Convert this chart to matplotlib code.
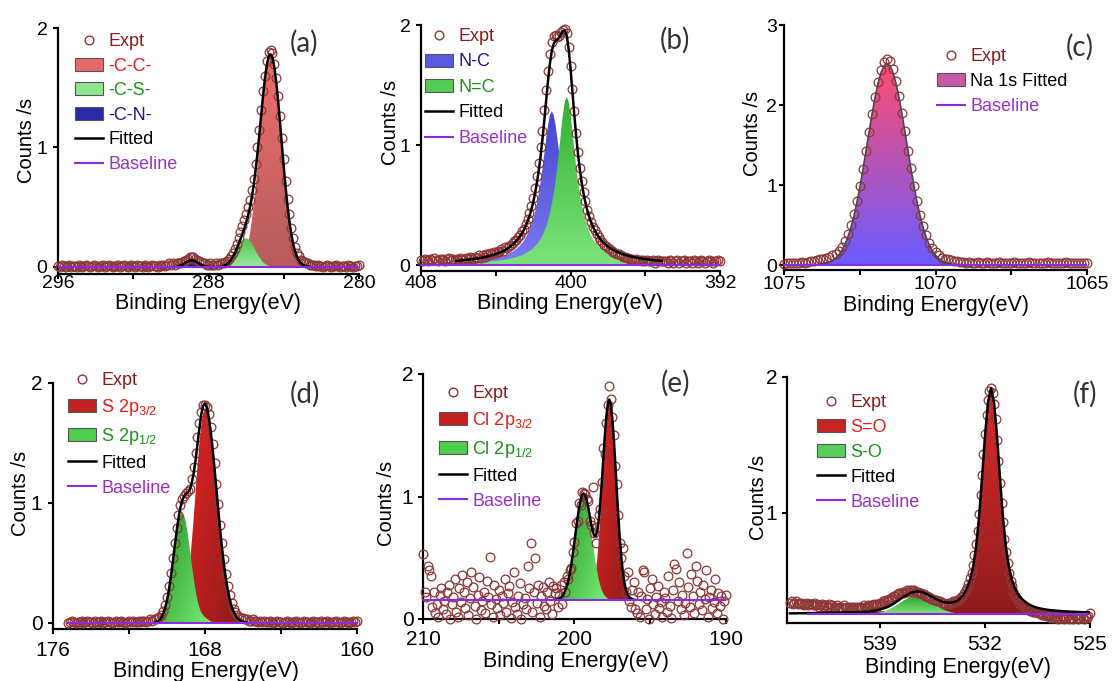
import numpy as np
import matplotlib.pyplot as plt
from matplotlib.colors import LinearSegmentedColormap
from matplotlib.lines import Line2D
from matplotlib.patches import Patch

plt.rcParams['font.family'] = ['Liberation Sans', 'DejaVu Sans']
plt.rcParams['mathtext.default'] = 'regular'

W, H = 1114, 681

EXPT_EDGE = '#8e3636'
EXPT_TEXT = '#8b1a1a'
BASE_COLOR = '#8a2be2'
BASE_TEXT = '#9b30c8'
RED_TEXT = '#e41e1e'
GREEN_TEXT = '#1a941a'
BLUE_TEXT = '#1c1c8c'

# ---------------- (a) C 1s ----------------
a_expt_start = 296.0
a_expt = [0.01, 0.00, 0.02, 0.01, 0.00, 0.01, 0.02, 0.00, 0.01, 0.01,
          0.00, 0.02, 0.01, 0.00, 0.01, 0.02, 0.01, 0.00, 0.01, 0.02,
          0.01, 0.00, 0.01, 0.01, 0.02, 0.00, 0.01, 0.02, 0.01, 0.00,
          0.01, 0.01, 0.02, 0.00, 0.01, 0.02, 0.01, 0.00, 0.01, 0.02,
          0.01, 0.00, 0.02, 0.01, 0.01, 0.00, 0.02, 0.01, 0.00, 0.01,
          0.02, 0.01, 0.01, 0.00, 0.02, 0.01, 0.02, 0.01, 0.02, 0.03,
          0.02, 0.03, 0.02, 0.03,
          0.03, 0.03, 0.04, 0.05, 0.06, 0.07, 0.08, 0.08, 0.08, 0.07,
          0.06, 0.05, 0.04, 0.03, 0.03,
          0.02, 0.02, 0.03, 0.02, 0.02, 0.03, 0.02, 0.03, 0.03,
          0.03, 0.04, 0.05, 0.07, 0.09, 0.12, 0.15, 0.19, 0.24, 0.29,
          0.34, 0.39, 0.44, 0.50, 0.56, 0.64, 0.74, 0.86, 1.00, 1.15,
          1.31, 1.47, 1.60, 1.72, 1.80, 1.82, 1.79, 1.70, 1.58, 1.43,
          1.26, 1.08, 0.90, 0.72, 0.57, 0.44, 0.33, 0.24, 0.17, 0.12,
          0.09, 0.06, 0.05, 0.04, 0.03, 0.03, 0.02,
          0.02, 0.02, 0.01, 0.02, 0.01, 0.01, 0.00, 0.01, 0.02, 0.01,
          0.00, 0.01, 0.01, 0.02, 0.01, 0.00, 0.01, 0.01, 0.00, 0.02,
          0.01, 0.01, 0.00, 0.01, 0.01, 0.02]
a_fit_start, a_fit_n = 289.6, 71
a_cc_start = 286.8
a_cc = [0.002, 0.004, 0.007, 0.012, 0.021, 0.035, 0.056, 0.087, 0.132, 0.194,
        0.276, 0.382, 0.512, 0.665, 0.837, 1.023, 1.211, 1.392, 1.550, 1.673,
        1.753, 1.780, 1.753, 1.673, 1.550, 1.392, 1.211, 1.023, 0.837, 0.665,
        0.512, 0.382, 0.276, 0.194, 0.132, 0.087, 0.056, 0.035, 0.021, 0.012,
        0.007, 0.004, 0.002]
a_cs_start = 287.2
a_cs = [0.011, 0.017, 0.027, 0.041, 0.060, 0.083, 0.110, 0.139, 0.170, 0.198,
        0.220, 0.235, 0.240, 0.235, 0.220, 0.198, 0.170, 0.139, 0.110, 0.083,
        0.060, 0.041, 0.027, 0.017, 0.011]
a_cn_start = 289.6
a_cn = [0.007, 0.013, 0.020, 0.029, 0.038, 0.047, 0.053, 0.055, 0.053, 0.047,
        0.038, 0.029, 0.020, 0.013, 0.007]
a_base = 0.0
a_base_x = [296.0, 280.0]

# ---------------- (b) N 1s ----------------
b_expt_start = 408.0
b_expt = [0.04, 0.03, 0.05, 0.04, 0.03, 0.05, 0.04, 0.06, 0.04, 0.03,
          0.05, 0.04, 0.05, 0.03, 0.05, 0.06, 0.04, 0.05, 0.04,
          0.05, 0.04, 0.06, 0.05, 0.04, 0.06, 0.05, 0.07, 0.06, 0.05,
          0.07, 0.06, 0.08, 0.06, 0.08, 0.07, 0.09, 0.08, 0.10, 0.09,
          0.11, 0.10, 0.12, 0.11, 0.13, 0.12, 0.15, 0.14, 0.16, 0.17,
          0.18, 0.20, 0.21, 0.23, 0.25, 0.28, 0.30, 0.34, 0.38, 0.43,
          0.49, 0.56, 0.64, 0.74, 0.85, 0.98, 1.12, 1.29, 1.46, 1.62,
          1.76, 1.86, 1.91, 1.92, 1.90, 1.91, 1.94, 1.96, 1.97, 1.93,
          1.82, 1.66, 1.47, 1.28, 1.10, 0.94, 0.81, 0.70, 0.61, 0.53,
          0.46, 0.41, 0.36, 0.32, 0.29, 0.26, 0.23, 0.21, 0.19, 0.17,
          0.16, 0.14, 0.13, 0.12, 0.11, 0.10, 0.09, 0.09, 0.08, 0.07,
          0.07, 0.06, 0.06, 0.05, 0.05, 0.04, 0.05, 0.04, 0.04, 0.03,
          0.04, 0.03, 0.04, 0.03, 0.03, 0.04, 0.02, 0.03, 0.04, 0.03,
          0.03,
          0.03, 0.03, 0.02, 0.04, 0.03, 0.02, 0.03, 0.04, 0.02, 0.03, 0.03,
          0.04, 0.02, 0.03, 0.03, 0.02, 0.04, 0.03, 0.02, 0.03, 0.04,
          0.03, 0.02, 0.03, 0.04, 0.03, 0.02, 0.03, 0.03, 0.04, 0.03]
b_fit_start, b_fit_n = 406.1, 111
b_nc_start = 406.1
b_nc = [0.020, 0.021, 0.022, 0.023, 0.024, 0.025, 0.026, 0.027, 0.029, 0.030,
        0.031, 0.033, 0.035, 0.036, 0.038, 0.040, 0.043, 0.045, 0.048, 0.051,
        0.054, 0.057, 0.061, 0.065, 0.070, 0.075, 0.081, 0.087, 0.095, 0.103,
        0.112, 0.122, 0.134, 0.148, 0.163, 0.181, 0.202, 0.227, 0.256, 0.290,
        0.331, 0.380, 0.439, 0.509, 0.593, 0.691, 0.804, 0.928, 1.055, 1.169,
        1.250, 1.280,
        1.250, 1.169, 1.055, 0.928, 0.804, 0.691, 0.593, 0.509, 0.439, 0.380,
        0.331, 0.290, 0.256, 0.227, 0.202, 0.181, 0.163, 0.148, 0.134, 0.122,
        0.112, 0.103, 0.095, 0.087, 0.081, 0.075, 0.070, 0.065, 0.061, 0.057,
        0.054, 0.051, 0.048, 0.045, 0.043, 0.040, 0.038, 0.036, 0.035, 0.033,
        0.031, 0.030, 0.029, 0.027, 0.026, 0.025, 0.024, 0.023, 0.022, 0.021,
        0.020, 0.020, 0.019, 0.018, 0.017, 0.017, 0.016, 0.016, 0.015]
b_ndc_start = 406.1
b_ndc = [0.014, 0.015, 0.015, 0.016, 0.017, 0.017, 0.018, 0.019, 0.020, 0.020,
         0.021, 0.022, 0.022, 0.023, 0.024, 0.026, 0.027, 0.028, 0.029, 0.031,
         0.032, 0.034, 0.036, 0.038, 0.040, 0.042, 0.045, 0.048, 0.051, 0.054,
         0.057, 0.061, 0.066, 0.071, 0.076, 0.082, 0.089, 0.097, 0.106, 0.116,
         0.127, 0.140, 0.155, 0.173, 0.193, 0.217, 0.246, 0.280, 0.321, 0.371,
         0.431, 0.504, 0.593, 0.700, 0.826, 0.969, 1.120, 1.260, 1.362, 1.400,
         1.362, 1.260, 1.120, 0.969, 0.826, 0.700, 0.593, 0.504, 0.431, 0.371,
         0.321, 0.280, 0.246, 0.217, 0.193, 0.173, 0.155, 0.140, 0.127, 0.116,
         0.106, 0.097, 0.089, 0.082, 0.076, 0.071, 0.066, 0.061, 0.057, 0.054,
         0.051, 0.048, 0.045, 0.042, 0.040, 0.038, 0.036, 0.034, 0.032, 0.031,
         0.029, 0.028, 0.027, 0.026, 0.024, 0.023, 0.022, 0.022, 0.021, 0.020,
         0.020]
b_base = 0.0
b_base_x = [408.0, 392.0]

# ---------------- (c) Na 1s ----------------
c_expt_start = 1075.0
c_expt = [0.01, 0.02, 0.02, 0.03, 0.02, 0.03, 0.04, 0.03, 0.04, 0.05,
          0.05, 0.06, 0.07, 0.08, 0.09, 0.10, 0.12, 0.14, 0.18, 0.23,
          0.30, 0.39, 0.50, 0.64, 0.80, 0.99, 1.20, 1.43, 1.66, 1.89,
          2.10, 2.29, 2.44, 2.54, 2.57, 2.55, 2.45, 2.30, 2.11, 1.90,
          1.67, 1.43, 1.21, 0.99, 0.80, 0.63, 0.49, 0.37, 0.28, 0.21,
          0.16, 0.12, 0.09, 0.08, 0.07, 0.06, 0.05, 0.05, 0.04,
          0.04, 0.03, 0.04, 0.03, 0.03, 0.04, 0.02, 0.03, 0.04, 0.03,
          0.02, 0.03, 0.04, 0.03, 0.02, 0.03, 0.03, 0.04, 0.02, 0.03,
          0.03, 0.02, 0.04, 0.03, 0.02, 0.03, 0.03, 0.02, 0.04, 0.03,
          0.02, 0.03, 0.02, 0.03, 0.04, 0.02, 0.03, 0.02, 0.03, 0.02,
          0.03, 0.02]
c_fit_start, c_fit_n = 1074.0, 49
c_na_start = 1074.0
c_na = [0.003, 0.005, 0.008, 0.014, 0.022, 0.035, 0.055, 0.082, 0.122, 0.176,
        0.248, 0.341, 0.458, 0.602, 0.772, 0.966, 1.182, 1.411, 1.646, 1.875,
        2.085, 2.266, 2.404, 2.490, 2.520, 2.490, 2.404, 2.266, 2.085, 1.875,
        1.646, 1.411, 1.182, 0.966, 0.772, 0.602, 0.458, 0.341, 0.248, 0.176,
        0.122, 0.082, 0.055, 0.035, 0.022, 0.014, 0.008, 0.005, 0.003]
c_base = 0.0
c_base_x = [1075.0, 1065.0]

# ---------------- (d) S 2p ----------------
d_expt_start = 175.2
d_expt = [0.00, 0.01, 0.02, 0.01, 0.00, 0.01, 0.01, 0.02, 0.00, 0.01,
          0.02, 0.01, 0.01, 0.00, 0.02, 0.01, 0.01, 0.02, 0.00, 0.01,
          0.01, 0.02, 0.01, 0.00, 0.01, 0.02, 0.01, 0.01, 0.02, 0.01,
          0.00, 0.01, 0.02, 0.01, 0.02, 0.01, 0.01, 0.02, 0.01, 0.02,
          0.02, 0.01, 0.02, 0.03, 0.02, 0.03,
          0.03, 0.04, 0.05, 0.07, 0.10, 0.15, 0.22, 0.31, 0.42, 0.54,
          0.67, 0.79, 0.90, 0.98, 1.03, 1.06, 1.08, 1.10, 1.12, 1.20,
          1.30, 1.42, 1.55, 1.67, 1.76, 1.82, 1.82, 1.80, 1.74, 1.63,
          1.49, 1.33, 1.16, 0.99, 0.82, 0.67, 0.53, 0.41, 0.31, 0.23,
          0.17, 0.12, 0.09, 0.07, 0.05, 0.04, 0.04, 0.03, 0.03,
          0.02, 0.02, 0.03, 0.02, 0.02, 0.01, 0.02, 0.01, 0.02, 0.01,
          0.01, 0.02, 0.01, 0.00, 0.01, 0.02, 0.01, 0.01, 0.00, 0.01,
          0.02, 0.01, 0.00, 0.01, 0.01, 0.02, 0.01, 0.00, 0.01, 0.02,
          0.01, 0.01, 0.00, 0.01, 0.02, 0.01, 0.01, 0.00, 0.02, 0.01,
          0.01, 0.02, 0.01, 0.00, 0.01, 0.01, 0.02, 0.01, 0.00, 0.01,
          0.02, 0.01, 0.01, 0.00, 0.01, 0.02, 0.01, 0.02]
d_fit_start, d_fit_n = 170.6, 49
d_s32_start = 170.0
d_s32 = [0.001, 0.002, 0.003, 0.006,
         0.011, 0.020, 0.036, 0.060, 0.100, 0.158, 0.241, 0.352, 0.494, 0.668,
         0.866, 1.080, 1.293, 1.487, 1.644, 1.745, 1.780, 1.757, 1.690, 1.583,
         1.446, 1.286, 1.115, 0.941, 0.774, 0.621, 0.485, 0.369, 0.274, 0.198,
         0.139, 0.096, 0.064, 0.042, 0.027, 0.016, 0.010, 0.006, 0.003]
d_s12_start = 170.6
d_s12 = [0.007, 0.014, 0.026, 0.046, 0.078, 0.124, 0.189, 0.274, 0.378, 0.496,
         0.620, 0.737, 0.834, 0.898, 0.920, 0.898, 0.834, 0.737, 0.620, 0.496,
         0.378, 0.274, 0.190, 0.130, 0.090, 0.065, 0.050, 0.035, 0.025, 0.015,
         0.008, 0.004]
d_base = 0.0
d_base_x = [175.2, 160.0]

# ---------------- (e) Cl 2p ----------------
e_expt_start = 210.0
e_expt = [0.53, 0.22, 0.18, 0.43, 0.40, 0.35, 0.10, 0.22, 0.05, 0.12,
          0.02, 0.20, 0.25, 0.08, 0.15, 0.04, 0.22, 0.28, 0.00, 0.12,
          0.18, 0.33, 0.06, 0.02, 0.25, 0.14, 0.36, 0.22, 0.09, 0.30,
          0.03, 0.17, 0.38, 0.26, 0.11, 0.00, 0.20, 0.34, 0.07, 0.15,
          0.22, 0.05, 0.31, 0.18, 0.51, 0.12, 0.02, 0.28, 0.16, 0.09,
          0.24, 0.03, 0.19, 0.13, 0.33, 0.06, 0.21, 0.27, 0.01, 0.14,
          0.38, 0.10, 0.04, 0.19, 0.29, 0.00, 0.12, 0.17, 0.08, 0.43,
          0.25, 0.62, 0.06, 0.22, 0.50, 0.13, 0.28, 0.02, 0.19, 0.26,
          0.11, 0.08, 0.22, 0.30, 0.15, 0.04, 0.27, 0.21,
          0.25, 0.10, 0.20, 0.28, 0.12, 0.30, 0.22, 0.35, 0.33, 0.40,
          0.42, 0.55, 0.63, 0.78, 0.80, 0.95, 0.93, 1.04, 1.03, 1.02,
          0.98, 0.96, 0.80, 0.77, 1.08, 0.70, 0.62, 0.75, 0.85, 0.90,
          1.12, 1.40, 1.35, 1.60, 1.75, 1.90, 1.80, 1.65, 1.50, 1.25,
          1.10, 0.85, 0.62, 0.50, 0.58, 0.35, 0.22, 0.38, 0.15, 0.10,
          0.24, 0.30, 0.08,
          0.05, 0.22, 0.02, 0.19, 0.40, 0.38, 0.08, 0.16, 0.00, 0.25,
          0.33, 0.12, 0.04, 0.18, 0.27, 0.09, 0.14, 0.02, 0.22, 0.17,
          0.06, 0.35, 0.11, 0.01, 0.24, 0.45, 0.41, 0.15, 0.30, 0.08,
          0.20, 0.03, 0.13, 0.54, 0.26, 0.10, 0.37, 0.19, 0.05, 0.43,
          0.31, 0.12, 0.22, 0.07, 0.28, 0.16, 0.40, 0.02, 0.18, 0.24,
          0.09, 0.14, 0.33, 0.05, 0.21, 0.11, 0.19, 0.00, 0.15, 0.20]
e_fit_start, e_fit_n = 201.2, 53
e_cl32_start = 199.3
e_cl32 = [0.003, 0.006, 0.013, 0.025, 0.046, 0.082, 0.138, 0.221, 0.336, 0.486,
          0.670, 0.879, 1.098, 1.305, 1.477, 1.590, 1.630, 1.590, 1.477, 1.305,
          1.098, 0.879, 0.670, 0.486, 0.336, 0.221, 0.138, 0.082, 0.046, 0.025,
          0.013, 0.006, 0.003, 0.001]
e_cl12_start = 201.2
e_cl12 = [0.004, 0.007, 0.013, 0.021, 0.034, 0.053, 0.081, 0.118, 0.167, 0.228,
          0.302, 0.387, 0.480, 0.576, 0.668, 0.750, 0.814, 0.856, 0.870, 0.856,
          0.814, 0.750, 0.668, 0.576, 0.480, 0.387, 0.302, 0.228, 0.167, 0.118,
          0.081, 0.053, 0.034, 0.021, 0.013, 0.007, 0.004]
e_base = 0.155
e_base_x = [210.0, 190.0]

# ---------------- (f) O 1s ----------------
f_expt_start = 545.0
f_expt = [0.34, 0.35, 0.33, 0.34, 0.35, 0.33, 0.34, 0.33, 0.34, 0.32,
          0.33, 0.34, 0.32, 0.33, 0.33, 0.32, 0.34, 0.32, 0.33, 0.31,
          0.32, 0.33, 0.31, 0.32, 0.32, 0.31, 0.33, 0.31, 0.32, 0.30,
          0.31, 0.32, 0.30, 0.31, 0.31, 0.30, 0.32, 0.30, 0.31, 0.30,
          0.31,
          0.30, 0.31, 0.30, 0.31, 0.30, 0.31, 0.31, 0.30, 0.32, 0.31,
          0.31, 0.32, 0.31, 0.32, 0.32, 0.33, 0.32, 0.33, 0.33, 0.34,
          0.34, 0.35, 0.35, 0.36, 0.36, 0.37, 0.37, 0.38, 0.39, 0.39,
          0.40, 0.40, 0.41, 0.41, 0.42, 0.41, 0.42, 0.43, 0.42, 0.43,
          0.43, 0.42, 0.43, 0.42, 0.42, 0.41, 0.41, 0.40, 0.40, 0.39,
          0.39, 0.38, 0.38, 0.37, 0.37, 0.36, 0.36, 0.35, 0.35, 0.35,
          0.34, 0.34, 0.34, 0.33, 0.34, 0.33, 0.34, 0.34, 0.35, 0.35,
          0.35, 0.36, 0.37, 0.38, 0.39, 0.41, 0.43, 0.45, 0.48, 0.52,
          0.56, 0.62, 0.69, 0.77, 0.87, 0.99, 1.13, 1.28, 1.43, 1.58,
          1.72, 1.83, 1.90, 1.92,
          1.88, 1.80, 1.69, 1.54, 1.38, 1.22, 1.07, 0.93, 0.81, 0.71,
          0.63, 0.56, 0.50, 0.46, 0.42, 0.39, 0.37, 0.35, 0.34, 0.33,
          0.32, 0.31, 0.30, 0.29, 0.29, 0.28, 0.28, 0.27, 0.27, 0.27,
          0.26, 0.26, 0.26, 0.25, 0.25, 0.25,
          0.24, 0.25, 0.24, 0.23, 0.24, 0.23, 0.24, 0.23, 0.22, 0.23,
          0.24, 0.23, 0.22, 0.23, 0.24, 0.22, 0.23, 0.23, 0.22, 0.24,
          0.23, 0.22, 0.23, 0.24, 0.23, 0.22, 0.24, 0.23, 0.24, 0.26]
f_fit_start, f_fit_n, f_fit_step = 545.0, 101, 0.2
f_sdo_start = 545.0
f_sdo = [0.005, 0.005, 0.005, 0.006, 0.006, 0.006, 0.007, 0.007, 0.007, 0.008,
         0.008, 0.009, 0.009, 0.010, 0.010, 0.010, 0.011, 0.011,
         0.012, 0.013, 0.013, 0.014, 0.014, 0.015, 0.016, 0.017, 0.017, 0.018,
         0.019, 0.020, 0.021, 0.022, 0.022, 0.023, 0.024, 0.025, 0.027, 0.028,
         0.029, 0.030, 0.032, 0.033, 0.035,
         0.037, 0.039, 0.041, 0.043, 0.045, 0.047, 0.049, 0.052, 0.055, 0.060,
         0.066, 0.073, 0.082, 0.097, 0.118, 0.148, 0.190, 0.250, 0.345, 0.490,
         0.710, 1.000, 1.310, 1.560, 1.660,
         1.560, 1.310, 1.000, 0.710, 0.490, 0.345, 0.250, 0.190, 0.148, 0.118,
         0.097, 0.080, 0.067, 0.057, 0.049, 0.043, 0.038, 0.034, 0.031, 0.028,
         0.026, 0.024, 0.022, 0.021, 0.019, 0.018, 0.017, 0.016, 0.015, 0.014,
         0.013, 0.013, 0.012]
f_so_start = 539.6
f_so = [0.003, 0.005, 0.008, 0.012, 0.018, 0.025, 0.034, 0.045, 0.058, 0.072,
        0.086, 0.100, 0.112, 0.122, 0.128, 0.130, 0.128, 0.122, 0.112, 0.100,
        0.086, 0.072, 0.058, 0.045, 0.034, 0.025, 0.018, 0.012, 0.008, 0.005,
        0.003]
f_base = 0.256
f_base_x = [543.8, 525.0]


def energy(start, n, step=0.1):
    return start - step * np.arange(n)


def place(fit_x, start, vals, step):
    out = np.zeros(len(fit_x))
    i = int(round((fit_x[0] - start) / step))
    out[i:i + len(vals)] = vals
    return out


def grad_fill(ax, x, base, top, c0, c1, mode='v', edge=None):
    poly = ax.fill_between(x, base, top, facecolor='none', linewidth=0)
    u = np.linspace(0, 1, 200)[None, :]
    v = np.linspace(0, 1, 200)[:, None]
    if mode == 'v':
        t = v * np.ones_like(u)
    else:
        t = 0.6 * (1 - u) + 0.4 * v
    cmap = LinearSegmentedColormap.from_list('fill', [c0, c1])
    im = ax.imshow(t, cmap=cmap, vmin=0, vmax=1, origin='lower', aspect='auto',
                   extent=[x.max(), x.min(), base, top.max()], zorder=2,
                   interpolation='bilinear')
    im.set_clip_path(poly.get_paths()[0], transform=ax.transData)
    if edge:
        ax.plot(x, top, color=edge, lw=0.9, zorder=2.5)


def draw_panel(ax, expt_start, expt, fit_start, fit_n, fit_step, comps, base,
               base_x, fit_color='black', fit_lw=1.8):
    fit_x = energy(fit_start, fit_n, fit_step)
    total = np.full(fit_n, base, dtype=float)
    for start, vals, c0, c1, mode, edge in comps:
        x = energy(start, len(vals), fit_step)
        grad_fill(ax, x, base, base + np.asarray(vals), c0, c1, mode, edge)
        total += place(fit_x, start, vals, fit_step)
    xe = energy(expt_start, len(expt))
    ax.plot(xe, expt, ls='none', marker='o', ms=6.3, mfc='none', mec=EXPT_EDGE,
            mew=0.9, clip_on=False, zorder=4)
    ax.plot(fit_x, total, color=fit_color, lw=fit_lw, zorder=5)
    ax.plot(base_x, [base, base], color=BASE_COLOR, lw=1.5, zorder=6)


def make_axes(box):
    l, t, r, b = box
    return fig.add_axes([l / W, 1 - b / H, (r - l) / W, (b - t) / H])


def style(ax, box, xlim, ylim, xmaj, xmin, ymaj, xpad, ypad, xl, yl, tick_fs=15):
    l, t, r, b = box
    ax.set_xlim(*xlim)
    ax.set_ylim(*ylim)
    ax.set_xticks(xmaj)
    ax.set_xticks(xmin, minor=True)
    ax.set_yticks(ymaj)
    ax.set_xticklabels([f'{v:g}' for v in xmaj])
    ax.set_yticklabels([f'{v:g}' for v in ymaj])
    for s in ('top', 'right'):
        ax.spines[s].set_visible(False)
    for s in ('left', 'bottom'):
        ax.spines[s].set_linewidth(1.6)
    ax.tick_params(which='both', direction='out', length=3.6, width=1.5,
                   labelsize=tick_fs)
    ax.tick_params(axis='x', which='both', pad=xpad)
    ax.tick_params(axis='y', pad=ypad)
    ax.set_xlabel('Binding Energy(eV)', fontsize=15.5, va='center', ha='center')
    ax.xaxis.set_label_coords((xl[0] - l) / (r - l), (b - xl[1]) / (b - t))
    ax.set_ylabel('Counts /s', fontsize=14.5, va='center', ha='center')
    ax.yaxis.set_label_coords((yl[0] - l) / (r - l), (b - yl[1]) / (b - t))


def legend(ax, entries, anchor, spacing):
    handles, labels, colors = [], [], []
    for kind, label, color, tcolor in entries:
        if kind == 'expt':
            h = Line2D([], [], ls='none', marker='o', ms=6.3, mfc='none',
                       mec=EXPT_EDGE, mew=1.0)
        elif kind == 'patch':
            h = Patch(facecolor=color, edgecolor='#555555', lw=0.8)
        else:
            h = Line2D([], [], color=color, lw=1.8 if kind == 'fit' else 1.5)
        handles.append(h)
        labels.append(label)
        colors.append(tcolor)
    leg = ax.legend(handles, labels, loc='upper left',
                    bbox_to_anchor=(anchor[0] / W, 1 - anchor[1] / H),
                    bbox_transform=fig.transFigure, frameon=False, fontsize=13,
                    handlelength=1.55, handleheight=0.72, handletextpad=0.3,
                    labelspacing=spacing, borderpad=0, borderaxespad=0)
    for txt, c in zip(leg.get_texts(), colors):
        txt.set_color(c)


def panel_letter(text, x, y):
    fig.text(x / W, 1 - y / H, text, fontsize=20, family=['Lato', 'DejaVu Sans'],
             color='#333333', ha='center', va='center')


fig = plt.figure(figsize=(W / 100, H / 100), dpi=100)

# (a)
box = (58, 28, 359, 274)
ax = make_axes(box)
draw_panel(ax, a_expt_start, a_expt, a_fit_start, a_fit_n, 0.1,
           [(a_cc_start, a_cc, '#b65c5c', '#ef6e6e', 'v', None),
            (a_cs_start, a_cs, '#9ae89a', '#52c452', 'v', None),
            (a_cn_start, a_cn, '#1a1a90', '#3030b0', 'v', None)],
           a_base, a_base_x)
style(ax, box, (296, 280), (-0.059, 2.0), [296, 288, 280], [292, 284], [0, 1, 2],
      -2.6, 4.0, (208, 304), (27, 140), tick_fs=14)
legend(ax, [('expt', 'Expt', None, EXPT_TEXT),
            ('patch', '-C-C-', '#e46a6a', RED_TEXT),
            ('patch', '-C-S-', '#8fe48f', GREEN_TEXT),
            ('patch', '-C-N-', '#2a2aa6', BLUE_TEXT),
            ('fit', 'Fitted', 'black', 'black'),
            ('base', 'Baseline', BASE_COLOR, BASE_TEXT)], (75, 33), 0.42)
panel_letter('(a)', 304, 43)

# (b)
box = (421, 25, 720, 271)
ax = make_axes(box)
draw_panel(ax, b_expt_start, b_expt, b_fit_start, b_fit_n, 0.1,
           [(b_nc_start, b_nc, '#7a7af0', '#4646d2', 'v', None),
            (b_ndc_start, b_ndc, '#7ce47c', '#32b032', 'v', None)],
           b_base, b_base_x)
style(ax, box, (408, 392), (-0.05, 2.0), [408, 400, 392], [404, 396], [0, 1, 2],
      -0.8, 4.0, (570, 304), (390, 122), tick_fs=14)
legend(ax, [('expt', 'Expt', None, EXPT_TEXT),
            ('patch', 'N-C', '#5a5ae0', BLUE_TEXT),
            ('patch', 'N=C', '#55cc55', GREEN_TEXT),
            ('fit', 'Fitted', 'black', 'black'),
            ('base', 'Baseline', BASE_COLOR, BASE_TEXT)], (425, 28), 0.47)
panel_letter('(b)', 675, 40)

# (c)
box = (784, 25, 1087, 270)
ax = make_axes(box)
draw_panel(ax, c_expt_start, c_expt, c_fit_start, c_fit_n, 0.1,
           [(c_na_start, c_na, '#6a5cff', '#ff4d70', 'v', None)],
           c_base, c_base_x, fit_color='#4a4a4a', fit_lw=1.2)
style(ax, box, (1075, 1065), (-0.0625, 3.0), [1075, 1070, 1065], [1072.5, 1067.5],
      [0, 1, 2, 3], 0.4, 1.2, (936, 305), (752, 133), tick_fs=14)
legend(ax, [('expt', 'Expt', None, EXPT_TEXT),
            ('patch', 'Na 1s Fitted', '#c55aa8', 'black'),
            ('base', 'Baseline', BASE_COLOR, BASE_TEXT)], (937, 48), 0.44)
panel_letter('(c)', 1080, 47)

# (d)
box = (53, 383, 357, 629)
ax = make_axes(box)
draw_panel(ax, d_expt_start, d_expt, d_fit_start, d_fit_n, 0.1,
           [(d_s32_start, d_s32, '#8b1a1a', '#f22626', 'd', None),
            (d_s12_start, d_s12, '#7cf27c', '#1f8f1f', 'd', None)],
           d_base, d_base_x)
style(ax, box, (176, 160), (-0.05, 2.0), [176, 168, 160], [172, 164], [0, 1, 2],
      5.4, 4.0, (206, 671), (20, 493))
legend(ax, [('expt', 'Expt', None, EXPT_TEXT),
            ('patch', 'S 2p$_{3/2}$', '#c42222', RED_TEXT),
            ('patch', 'S 2p$_{1/2}$', '#4fcf4f', GREEN_TEXT),
            ('fit', 'Fitted', 'black', 'black'),
            ('base', 'Baseline', BASE_COLOR, BASE_TEXT)], (68, 372), 0.44)
panel_letter('(d)', 305, 394)

# (e)
box = (423, 374, 726, 619)
ax = make_axes(box)
draw_panel(ax, e_expt_start, e_expt, e_fit_start, e_fit_n, 0.1,
           [(e_cl32_start, e_cl32, '#8b1a1a', '#f22626', 'd', None),
            (e_cl12_start, e_cl12, '#7cf27c', '#1f8f1f', 'd', None)],
           e_base, e_base_x)
style(ax, box, (210, 190), (0.0, 2.0), [210, 200, 190], [205, 195], [0, 1, 2],
      4.6, 3.3, (576, 661), (387, 503))
legend(ax, [('expt', 'Expt', None, EXPT_TEXT),
            ('patch', 'Cl 2p$_{3/2}$', '#c42222', RED_TEXT),
            ('patch', 'Cl 2p$_{1/2}$', '#4fcf4f', GREEN_TEXT),
            ('fit', 'Fitted', 'black', 'black'),
            ('base', 'Baseline', BASE_COLOR, BASE_TEXT)], (439, 385), 0.44)
panel_letter('(e)', 676, 383)

# (f)
box = (787, 377, 1090, 623)
ax = make_axes(box)
draw_panel(ax, f_expt_start, f_expt, f_fit_start, f_fit_n, f_fit_step,
           [(f_sdo_start, f_sdo, '#8e1c1c', '#e02a2a', 'v', None),
            (f_so_start, f_so, '#7ae87a', '#2e9e2e', 'v', None)],
           f_base, f_base_x)
style(ax, box, (545.2, 525), (0.19, 2.0), [539, 532, 525], [], [1, 2],
      5.2, 3.3, (958, 667), (758, 497))
legend(ax, [('expt', 'Expt', None, EXPT_TEXT),
            ('patch', 'S=O', '#c42626', RED_TEXT),
            ('patch', 'S-O', '#58d058', GREEN_TEXT),
            ('fit', 'Fitted', 'black', 'black'),
            ('base', 'Baseline', BASE_COLOR, BASE_TEXT)], (817, 394), 0.44)
panel_letter('(f)', 1085, 394)

fig.savefig('out.png', dpi=100)
